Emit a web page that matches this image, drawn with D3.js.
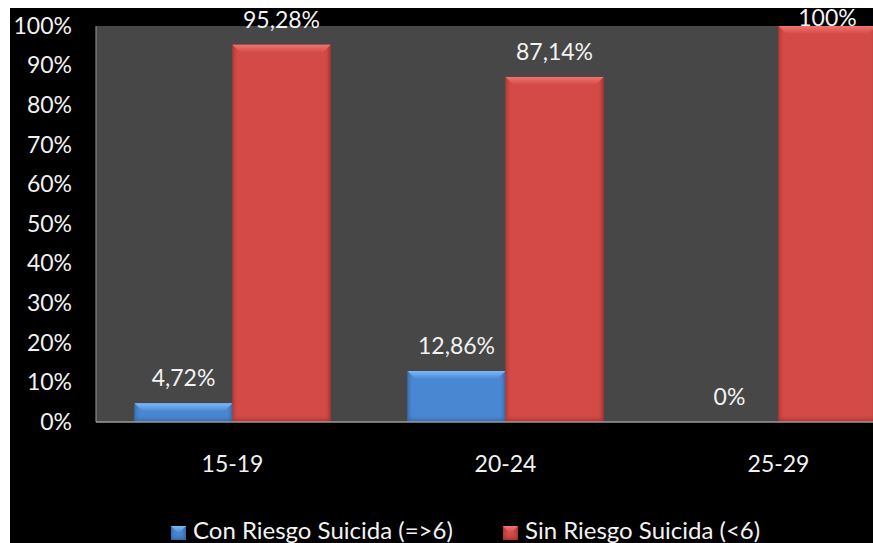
<!DOCTYPE html>
<html>
<head>
<meta charset="utf-8">
<script src="https://cdn.jsdelivr.net/npm/d3@7"></script>
<style>
  html, body { margin: 0; padding: 0; background: #fff; }
  svg { display: block; }
  text { font-family: Lato, "Open Sans", sans-serif; fill: #f2f2f2; }
</style>
</head>
<body>
<svg id="chart" width="873" height="543"></svg>
<script>
// Grupos de edad y porcentajes por grupo
const categories = ["15-19", "20-24", "25-29"];
const seriesNames = ["Con Riesgo Suicida (=>6)", "Sin Riesgo Suicida (<6)"];
const conRiesgo = [4.72, 12.86, 0];
const sinRiesgo = [95.28, 87.14, 100];
const yTicks = [0, 10, 20, 30, 40, 50, 60, 70, 80, 90, 100];

const palette = [
  { body: "#4a87d3", light: "#7db8f5", dark: "#2c5a96" },
  { body: "#d44a46", light: "#f07470", dark: "#962a27" }
];

const svg = d3.select("#chart");
const W = 873, H = 543;

// Fondo: marco blanco arriba/izquierda, lienzo negro
svg.append("rect").attr("width", W).attr("height", H).attr("fill", "#fff");
svg.append("rect").attr("x", 10).attr("y", 8).attr("width", W - 10).attr("height", H - 8).attr("fill", "#000");

const plot = { left: 96, top: 26, right: 915, bottom: 422 };

const x0 = d3.scaleBand().domain(categories).range([plot.left, plot.right]).paddingInner(0).paddingOuter(0);
const x1 = d3.scaleBand().domain([0, 1]).range([0, x0.bandwidth()]).paddingInner(0).paddingOuter(0.393);
const y = d3.scaleLinear().domain([0, 100]).range([plot.bottom, plot.top]);

const fmt = d3.formatLocale({ decimal: ",", thousands: ".", grouping: [3], currency: ["", ""] }).format(".2f");
const pct = v => (Number.isInteger(v) ? String(v) : fmt(v)) + "%";

// Área de trazado
svg.append("rect")
  .attr("x", plot.left).attr("y", plot.top)
  .attr("width", plot.right - plot.left).attr("height", plot.bottom - plot.top)
  .attr("fill", "#474747");

// Gradientes para los bordes biselados
const defs = svg.append("defs");
palette.forEach((p, i) => {
  const gl = defs.append("linearGradient").attr("id", "side" + i).attr("x1", 0).attr("x2", 1);
  gl.append("stop").attr("offset", 0).attr("stop-color", p.dark).attr("stop-opacity", 0.6);
  gl.append("stop").attr("offset", 1).attr("stop-color", p.body).attr("stop-opacity", 0);
  const gr = defs.append("linearGradient").attr("id", "sideR" + i).attr("x1", 0).attr("x2", 1);
  gr.append("stop").attr("offset", 0).attr("stop-color", p.body).attr("stop-opacity", 0);
  gr.append("stop").attr("offset", 1).attr("stop-color", p.dark).attr("stop-opacity", 0.8);
  const gt = defs.append("linearGradient").attr("id", "top" + i).attr("x1", 0).attr("x2", 0).attr("y1", 0).attr("y2", 1);
  gt.append("stop").attr("offset", 0).attr("stop-color", p.light);
  gt.append("stop").attr("offset", 1).attr("stop-color", p.body);
  const gb = defs.append("linearGradient").attr("id", "bot" + i).attr("x1", 0).attr("x2", 0).attr("y1", 0).attr("y2", 1);
  gb.append("stop").attr("offset", 0).attr("stop-color", p.body).attr("stop-opacity", 0);
  gb.append("stop").attr("offset", 1).attr("stop-color", p.dark).attr("stop-opacity", 0.7);
});

// Dibuja una barra con efecto biselado
function bevelBar(g, bx, by, bw, bh, si) {
  if (bh <= 0) return;
  const p = palette[si];
  const b = Math.min(8, bh / 2);
  g.append("rect").attr("x", bx).attr("y", by).attr("width", bw).attr("height", bh).attr("fill", p.body);
  g.append("rect").attr("x", bx).attr("y", by).attr("width", 6).attr("height", bh).attr("fill", `url(#side${si})`);
  g.append("rect").attr("x", bx + bw - 6).attr("y", by).attr("width", 6).attr("height", bh).attr("fill", `url(#sideR${si})`);
  g.append("rect").attr("x", bx).attr("y", by + bh - b).attr("width", bw).attr("height", b).attr("fill", `url(#bot${si})`);
  g.append("path")
    .attr("d", `M${bx},${by}L${bx + bw},${by}L${bx + bw - b},${by + b}L${bx + b},${by + b}Z`)
    .attr("fill", `url(#top${si})`);
}

const series = [conRiesgo, sinRiesgo];
const barsG = svg.append("g");
categories.forEach((c, ci) => {
  series.forEach((vals, si) => {
    const v = vals[ci];
    const bx = x0(c) + x1(si);
    const bw = x1.bandwidth();
    bevelBar(barsG, bx, y(v), bw, y(0) - y(v), si);
  });
});

// Ejes
const axisColor = "#9a9a9a";
svg.append("line").attr("x1", plot.left).attr("x2", plot.right).attr("y1", y(0)).attr("y2", y(0))
  .attr("stroke", axisColor).attr("stroke-width", 1.5);
svg.append("line").attr("x1", plot.left).attr("x2", plot.left).attr("y1", plot.top).attr("y2", plot.bottom)
  .attr("stroke", axisColor).attr("stroke-width", 1);

const yAxis = svg.append("g")
  .attr("transform", `translate(${plot.left},0)`)
  .call(d3.axisLeft(y).tickValues(yTicks).tickFormat(d => d + "%").tickSize(0).tickPadding(24));
yAxis.select(".domain").remove();
yAxis.selectAll("text").attr("font-size", 23).attr("fill", "#f2f2f2").attr("font-family", "Lato, sans-serif");

const xAxis = svg.append("g")
  .attr("transform", `translate(0,${plot.bottom})`)
  .call(d3.axisBottom(x0).tickSize(0).tickPadding(34));
xAxis.select(".domain").remove();
xAxis.selectAll("text").attr("font-size", 23).attr("fill", "#f2f2f2").attr("font-family", "Lato, sans-serif");

// Etiquetas de valor
const labelsG = svg.append("g").attr("font-size", 23).attr("text-anchor", "middle");
categories.forEach((c, ci) => {
  series.forEach((vals, si) => {
    const v = vals[ci];
    const cx = x0(c) + x1(si) + x1.bandwidth() / 2;
    const by = Math.max(y(v) - 17, plot.top);
    labelsG.append("text").attr("x", cx).attr("y", by).text(pct(v));
  });
});

// Leyenda
const legend = svg.append("g").attr("font-size", 24);
const legendX = [171, 503];
seriesNames.forEach((name, si) => {
  const g = legend.append("g");
  bevelBar(g, legendX[si], 526, 15, 14, si);
  g.append("text").attr("x", legendX[si] + 22).attr("y", 539).text(name);
});
</script>
</body>
</html>
